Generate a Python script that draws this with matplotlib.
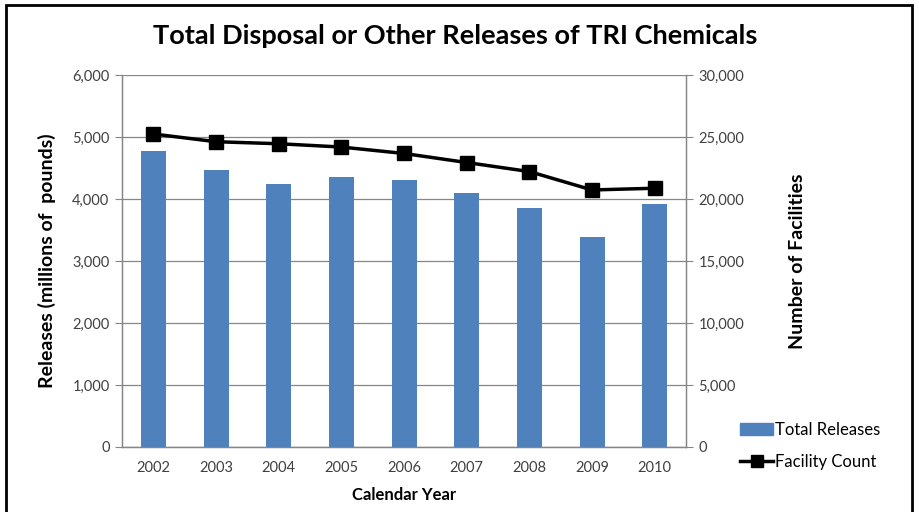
import matplotlib.pyplot as plt
import numpy as np
from matplotlib.patches import Rectangle
from matplotlib.lines import Line2D
from matplotlib.ticker import FuncFormatter

plt.rcParams['font.family'] = ['Lato', 'DejaVu Sans']

### data ###
years = ['2002', '2003', '2004', '2005', '2006', '2007', '2008', '2009', '2010']
releases = [4767, 4465, 4238, 4361, 4313, 4102, 3849, 3379, 3919]     # millions of pounds
facilities = [25243, 24619, 24457, 24190, 23671, 22942, 22212, 20729, 20867]

bar_color = '#4F81BD'
grid_color = '#868686'
text_color = '#404040'

fig = plt.figure(figsize=(9.19, 5.12), dpi=100)
ax = fig.add_axes([0.1328, 0.127, 0.6137, 0.7265])
ax2 = ax.twinx()

x = np.arange(len(years))
ax.bar(x, releases, width=0.4, color=bar_color, zorder=3)
ax2.plot(x, facilities, color='black', lw=2.5, marker='s', ms=10, zorder=4)

ax.set_xlim(-0.5, len(years) - 0.5)
ax.set_ylim(0, 6000)
ax.set_yticks(np.arange(0, 6001, 1000))
ax2.set_ylim(0, 30000)
ax2.set_yticks(np.arange(0, 30001, 5000))

fmt = FuncFormatter(lambda v, p: f'{int(v):,}')
ax.yaxis.set_major_formatter(fmt)
ax2.yaxis.set_major_formatter(fmt)

ax.set_xticks(x)
ax.set_xticklabels(years)
ax.tick_params(axis='x', length=0, pad=10, labelsize=10.5, colors=text_color)
ax.tick_params(axis='y', length=5, color=grid_color, labelsize=10.5, labelcolor=text_color, pad=4)
ax2.tick_params(axis='y', length=5, color=grid_color, labelsize=10.5, labelcolor=text_color, pad=4)

ax.grid(axis='y', color=grid_color, lw=0.9, zorder=0)
ax.set_axisbelow(True)

for a in (ax, ax2):
    a.spines['top'].set_visible(False)
    for s in ('left', 'right', 'bottom'):
        a.spines[s].set_color(grid_color)
        a.spines[s].set_linewidth(0.9)

ax.set_ylabel('Releases (millions of  pounds)', fontsize=14, fontweight='bold', labelpad=12)
ax2.set_ylabel('Number of Facilities', fontsize=14, fontweight='bold', labelpad=32)
ax.set_xlabel('Calendar Year', fontsize=12, fontweight='bold', labelpad=9)

fig.text(0.495, 0.929, 'Total Disposal or Other Releases of TRI Chemicals',
         ha='center', va='center', fontsize=19.5, fontweight='bold')

handles = [Rectangle((0, 0), 1, 1, color=bar_color),
           Line2D([0], [0], color='black', lw=2.5, marker='s', ms=8)]
fig.legend(handles, ['Total Releases', 'Facility Count'], loc='center left',
           bbox_to_anchor=(0.789, 0.129), frameon=False, fontsize=12,
           handlelength=2.0, handletextpad=0.1, labelspacing=0.95)

# outer chart border
fig.patches.append(Rectangle((0.006, -0.05), 0.986, 1.04, transform=fig.transFigure,
                             fill=False, edgecolor='black', lw=2))

fig.savefig('out.png', dpi=100)
